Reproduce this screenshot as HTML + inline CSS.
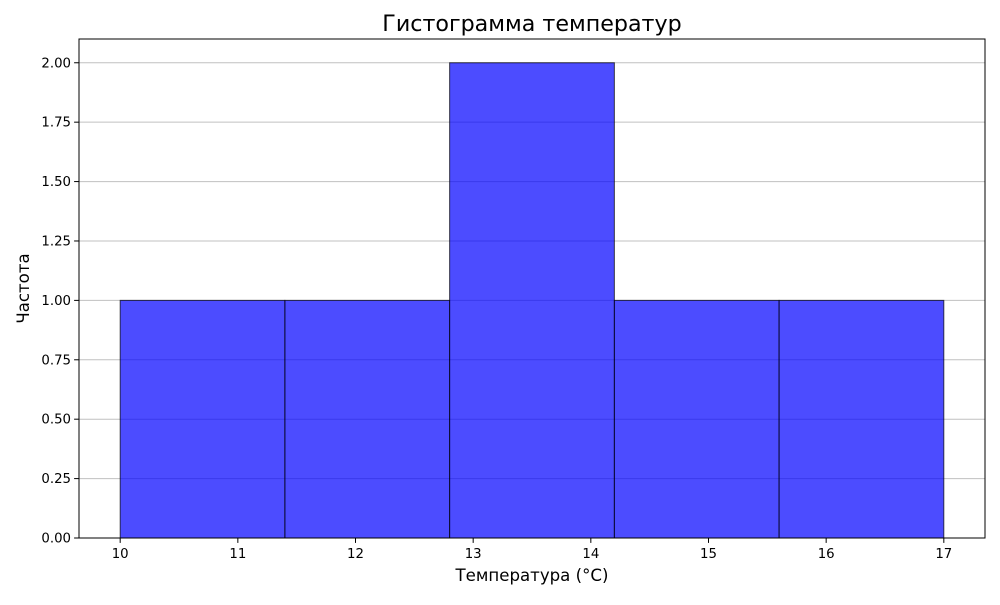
<!DOCTYPE html>
<html><head><meta charset="utf-8"><style>
body{margin:0;background:#fff;font-family:"Liberation Sans","DejaVu Sans",sans-serif;}
</style></head><body>
<svg id="chart" width="1000" height="600" xmlns="http://www.w3.org/2000/svg" font-family="DejaVu Sans, Liberation Sans, sans-serif"></svg>
<script>
const binEdges = [10, 11.4, 12.8, 14.2, 15.6, 17];
const counts = [1, 1, 2, 1, 1];
const xTicks = [10, 11, 12, 13, 14, 15, 16, 17];
const yTicks = [0, 0.25, 0.5, 0.75, 1.0, 1.25, 1.5, 1.75, 2.0];

const L=79,R=985,T=39,B=538;
const xmin=9.65,xmax=17.35,ymin=0,ymax=2.1;
const sx=v=>L+(v-xmin)/(xmax-xmin)*(R-L);
const sy=v=>B-(v-ymin)/(ymax-ymin)*(B-T);
const svg=document.getElementById('chart');
const NS='http://www.w3.org/2000/svg';
function mk(tag,attrs,parent){const e=document.createElementNS(NS,tag);for(const k in attrs)e.setAttribute(k,attrs[k]);(parent||svg).appendChild(e);return e;}

yTicks.forEach(t=>{
  const g=mk('line',{x1:L,x2:R,y1:sy(t),y2:sy(t),stroke:'#c0c0c0','stroke-width':1});
  
  
});
counts.forEach((c,i)=>{
  const x0=sx(binEdges[i]),x1=sx(binEdges[i+1]);
  const r=mk('rect',{x:x0,y:sy(c),width:x1-x0,height:sy(0)-sy(c),fill:'rgba(0,0,255,0.7)',stroke:'rgba(0,0,0,0.7)','stroke-width':1});
  
  
});
const f=mk('rect',{x:L,y:T,width:R-L,height:B-T,fill:'none',stroke:'#000','stroke-width':1});


xTicks.forEach(t=>{
  mk('line',{x1:sx(t),x2:sx(t),y1:B,y2:B+4.9,stroke:'#000'});
  const tx=mk('text',{x:sx(t),y:B+20,'text-anchor':'middle','font-size':13.3});
  tx.textContent=t;
  
  
});
yTicks.forEach(t=>{
  mk('line',{x1:L-4.9,x2:L,y1:sy(t),y2:sy(t),stroke:'#000'});
  const tx=mk('text',{x:L-8,y:sy(t)+4.5,'text-anchor':'end','font-size':13.3});
  tx.textContent=t.toFixed(2);
  
  
});
const title=mk('text',{x:(L+R)/2,y:31,'text-anchor':'middle','font-size':22.2});
title.textContent='Гистограмма температур';


const xl=mk('text',{x:(L+R)/2,y:581,'text-anchor':'middle','font-size':16.6});
xl.textContent='Температура (°C)';


const yl=mk('text',{x:29,y:(T+B)/2,'text-anchor':'middle','font-size':16.6,transform:'rotate(-90 29 '+((T+B)/2)+')'});
yl.textContent='Частота';


</script>
</body></html>
